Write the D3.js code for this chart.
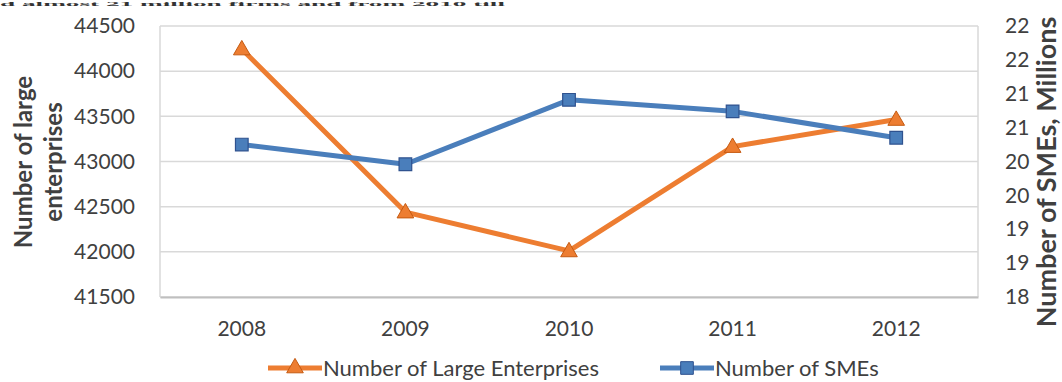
<!DOCTYPE html>
<html>
<head>
<meta charset="utf-8">
<script src="https://cdn.jsdelivr.net/npm/d3@7"></script>
<style>
  body { margin: 0; background: #fff; }
  svg { display: block; }
</style>
</head>
<body>
<svg class="chart"></svg>
<script>
let width = 1062,
  height = 382;

// data
let years = ["2008", "2009", "2010", "2011", "2012"];
let largeEnterprises = [44245, 42440, 42010, 43165, 43465];
let smes = [20.25, 19.96, 20.91, 20.74, 20.35]; // millions
let leftTicks = [41500, 42000, 42500, 43000, 43500, 44000, 44500];
let rightTicks = [18, 18.5, 19, 19.5, 20, 20.5, 21, 21.5, 22];

let orange = "#ed7d31",
  blue = "#4a7ebb";
let font = "Lato, 'Open Sans', sans-serif";

let margin = { top: 26, right: 84, bottom: 85, left: 160 };

let svg = d3.select(".chart").attr("width", width).attr("height", height);

// the line of body text that sits just above the figure
svg
  .append("text")
  .attr("x", 0)
  .attr("y", 6)
  .attr("textLength", 505)
  .attr("lengthAdjust", "spacingAndGlyphs")
  .style("font-family", "'Liberation Serif', serif")
  .style("font-size", "7px")
  .style("font-weight", "bold")
  .attr("fill", "#333")
  .text("d almost 21 million firms and from 2010 till");

let x = d3
  .scaleBand()
  .domain(years)
  .range([margin.left, width - margin.right]);

let yLeft = d3
  .scaleLinear()
  .domain([41500, 44500])
  .range([height - margin.bottom, margin.top]);

let yRight = d3
  .scaleLinear()
  .domain([18, 22])
  .range([height - margin.bottom, margin.top]);

// gridlines
svg
  .append("g")
  .selectAll("line")
  .data(leftTicks)
  .enter()
  .append("line")
  .attr("x1", margin.left)
  .attr("x2", width - margin.right)
  .attr("y1", (d) => yLeft(d))
  .attr("y2", (d) => yLeft(d))
  .attr("stroke", "#d9d9d9")
  .attr("stroke-width", 1.5);

// plot frame sides
[margin.left, width - margin.right].forEach(function (xx) {
  svg
    .append("line")
    .attr("x1", xx)
    .attr("x2", xx)
    .attr("y1", margin.top)
    .attr("y2", height - margin.bottom)
    .attr("stroke", "#d9d9d9")
    .attr("stroke-width", 1.5);
});

// left axis
let leftAxis = svg
  .append("g")
  .attr("transform", `translate(${margin.left - 22},0)`)
  .call(d3.axisLeft(yLeft).tickValues(leftTicks).tickSize(0).tickFormat(d3.format("d")));
leftAxis.select(".domain").remove();

// right axis (Excel rounds the half-million ticks)
let rightAxis = svg
  .append("g")
  .attr("transform", `translate(${width - margin.right + 24},0)`)
  .call(
    d3
      .axisRight(yRight)
      .tickValues(rightTicks)
      .tickSize(0)
      .tickFormat((d) => Math.round(d))
  );
rightAxis.select(".domain").remove();

// bottom axis
let bottomAxis = svg
  .append("g")
  .attr("transform", `translate(0,${height - margin.bottom})`)
  .call(d3.axisBottom(x).tickSize(0).tickPadding(24));
bottomAxis.select(".domain").attr("stroke", "#bfbfbf").attr("stroke-width", 2);

svg
  .selectAll(".tick text")
  .style("font-family", font)
  .style("font-size", "21px")
  .attr("fill", "#404040");

// axis titles
let leftTitle = svg
  .append("text")
  .attr("transform", "translate(32,162) rotate(-90)")
  .attr("text-anchor", "middle")
  .style("font-family", font)
  .style("font-size", "24px")
  .style("font-weight", "bold")
  .attr("fill", "#404040");
leftTitle.append("tspan").attr("x", 0).attr("dy", 0).text("Number of large");
leftTitle.append("tspan").attr("x", 0).attr("dy", 30).text("enterprises");

svg
  .append("text")
  .attr("transform", "translate(1056,172) rotate(-90)")
  .attr("text-anchor", "middle")
  .style("font-family", font)
  .style("font-size", "27px")
  .style("font-weight", "bold")
  .attr("fill", "#404040")
  .text("Number of SMEs, Millions");

let cx = (d, i) => x(years[i]) + x.bandwidth() / 2;

let triangle = d3.symbol().type(d3.symbolTriangle).size(120);
let square = d3.symbol().type(d3.symbolSquare).size(160);

// large enterprises
svg
  .append("path")
  .datum(largeEnterprises)
  .attr("fill", "none")
  .attr("stroke", orange)
  .attr("stroke-width", 5)
  .attr("stroke-linejoin", "round")
  .attr("d", d3.line().x(cx).y((d) => yLeft(d)));

// SMEs
svg
  .append("path")
  .datum(smes)
  .attr("fill", "none")
  .attr("stroke", blue)
  .attr("stroke-width", 5)
  .attr("stroke-linejoin", "round")
  .attr("d", d3.line().x(cx).y((d) => yRight(d)));

svg
  .selectAll(".tri")
  .data(largeEnterprises)
  .enter()
  .append("path")
  .attr("class", "tri")
  .attr("transform", (d, i) => `translate(${cx(d, i)},${yLeft(d) + 1})`)
  .attr("d", triangle)
  .attr("fill", orange)
  .attr("stroke", "#c55a11")
  .attr("stroke-width", 1);

svg
  .selectAll(".sq")
  .data(smes)
  .enter()
  .append("path")
  .attr("class", "sq")
  .attr("transform", (d, i) => `translate(${cx(d, i)},${yRight(d)})`)
  .attr("d", square)
  .attr("fill", blue)
  .attr("stroke", "#2f528f")
  .attr("stroke-width", 1.2);

// legend
let legendItems = [
  { label: "Number of Large Enterprises", color: orange, sym: triangle, stroke: "#c55a11", x: 268 },
  { label: "Number of SMEs", color: blue, sym: square, stroke: "#2f528f", x: 660 },
];
let legendY = 368;

let legend = svg
  .selectAll(".legend")
  .data(legendItems)
  .enter()
  .append("g")
  .attr("class", "legend")
  .attr("transform", (d) => `translate(${d.x},${legendY})`);

legend
  .append("line")
  .attr("x1", 0)
  .attr("x2", 54)
  .attr("stroke", (d) => d.color)
  .attr("stroke-width", 5);

legend
  .append("path")
  .attr("transform", "translate(27,0)")
  .attr("d", (d) => d.sym())
  .attr("fill", (d) => d.color)
  .attr("stroke", (d) => d.stroke);

legend
  .append("text")
  .attr("x", 55)
  .attr("dy", "0.35em")
  .style("font-family", font)
  .style("font-size", "22px")
  .attr("fill", "#404040")
  .text((d) => d.label);
</script>
</body>
</html>
